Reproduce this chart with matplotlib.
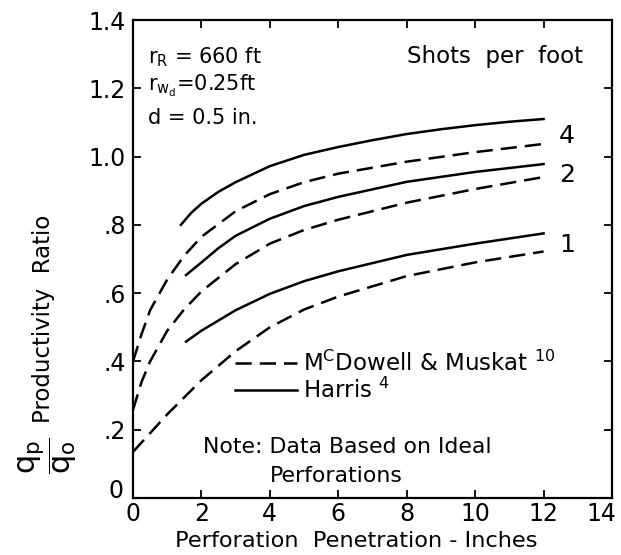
import matplotlib
matplotlib.use("Agg")
import matplotlib.pyplot as plt
import matplotlib.transforms as mtrans

plt.rcParams['font.family'] = ['DejaVu Sans']
plt.rcParams['mathtext.fontset'] = 'dejavusans'
plt.rcParams['mathtext.default'] = 'regular'

# ---- data ----
harris4_x = [1.4, 1.7, 2, 2.5, 3, 4, 5, 6, 7, 8, 9, 10, 11, 12]
harris4_y = [0.80, 0.835, 0.862, 0.897, 0.925, 0.972, 1.005, 1.028, 1.048, 1.066, 1.08, 1.092, 1.102, 1.11]

mcd4_x = [0, 0.25, 0.5, 1, 1.5, 2, 3, 4, 5, 6, 8, 10, 12]
mcd4_y = [0.40, 0.48, 0.55, 0.64, 0.71, 0.765, 0.84, 0.89, 0.925, 0.95, 0.985, 1.013, 1.037]

harris2_x = [1.55, 2, 2.5, 3, 4, 5, 6, 8, 10, 12]
harris2_y = [0.653, 0.69, 0.732, 0.768, 0.818, 0.855, 0.882, 0.926, 0.955, 0.978]

mcd2_x = [0, 0.25, 0.5, 1, 1.5, 2, 3, 4, 5, 6, 8, 10, 12]
mcd2_y = [0.258, 0.34, 0.40, 0.49, 0.553, 0.605, 0.685, 0.745, 0.785, 0.815, 0.865, 0.905, 0.94]

harris1_x = [1.55, 2, 3, 4, 5, 6, 8, 10, 12]
harris1_y = [0.458, 0.49, 0.55, 0.598, 0.635, 0.664, 0.712, 0.745, 0.775]

mcd1_x = [0, 0.5, 1, 1.5, 2, 3, 4, 5, 6, 8, 10, 12]
mcd1_y = [0.135, 0.19, 0.245, 0.295, 0.345, 0.43, 0.50, 0.552, 0.59, 0.65, 0.69, 0.722]

shots_labels = ["4", "2", "1"]
shots_label_y = [1.061, 0.947, 0.742]

x_ticks = [0, 2, 4, 6, 8, 10, 12, 14]
x_ticklabels = ["0", "2", "4", "6", "8", "10", "12", "14"]
y_ticks = [0, 0.2, 0.4, 0.6, 0.8, 1.0, 1.2, 1.4]
y_ticklabels = ["0", ".2", ".4", ".6", ".8", "1.0", "1.2", "1.4"]

legend_labels = [r"M$^{\mathrm{C}}$Dowell & Muskat $^{10}$", r"Harris $^{4}$"]

# ---- figure ----
fig = plt.figure(figsize=(6.21, 5.55), dpi=100)
ax = fig.add_axes([133/621, 1-498/555, (612-133)/621, (498-20)/555])

lw = 1.8
dash = (6.5, 3.2)
ln_d, = ax.plot(mcd4_x, mcd4_y, color='black', lw=lw, dashes=dash)
ax.plot(mcd2_x, mcd2_y, color='black', lw=lw, dashes=dash)
ax.plot(mcd1_x, mcd1_y, color='black', lw=lw, dashes=dash)
ln_s, = ax.plot(harris4_x, harris4_y, color='black', lw=lw)
ax.plot(harris2_x, harris2_y, color='black', lw=lw)
ax.plot(harris1_x, harris1_y, color='black', lw=lw)

ax.set_xlim(0, 14)
ax.set_ylim(0, 1.4)
ax.set_xticks(x_ticks)
ax.set_xticklabels(x_ticklabels, fontsize=17)
ax.set_yticks(y_ticks)
ax.set_yticklabels(y_ticklabels, fontsize=17)
ax.tick_params(direction='in', length=6, width=1.3, top=True, right=True, pad=3)
ax.tick_params(axis='y', pad=5)
for s in ax.spines.values():
    s.set_linewidth(1.6)
xl = ax.get_xticklabels()
xl[-1].set_transform(xl[-1].get_transform() + mtrans.ScaledTranslation(-11/100, 0, fig.dpi_scale_trans))
yl = ax.get_yticklabels()
yl[0].set_transform(yl[0].get_transform() + mtrans.ScaledTranslation(-3/100, 10/100, fig.dpi_scale_trans))

# shots-per-foot labels
for lab, yy in zip(shots_labels, shots_label_y):
    ax.text(12.45, yy, lab, fontsize=18, ha='left', va='center')

ax.text(8.0, 1.294, "Shots  per  foot", fontsize=16.5, ha='left', va='center')
ax.text(0.45, 1.292, r"r$_\mathrm{R}$ = 660 ft", fontsize=15, ha='left', va='center')
ax.text(0.45, 1.206, r"r$_{\mathrm{w}_\mathrm{d}}$=0.25ft", fontsize=15, ha='left', va='center')
ax.text(0.45, 1.113, "d = 0.5 in.", fontsize=15, ha='left', va='center')

ax.text(2.05, 0.150, "Note: Data Based on Ideal", fontsize=15.8, ha='left', va='center')
ax.text(4.0, 0.065, "Perforations", fontsize=15.8, ha='left', va='center')

leg = ax.legend([ln_d, ln_s], legend_labels, loc='upper left',
                bbox_to_anchor=(2.98, 0.43), bbox_transform=ax.transData,
                frameon=False, fontsize=16.5, handlelength=2.7, handletextpad=0.25,
                labelspacing=0.05, borderpad=0, borderaxespad=0)

fig.text(356/621, 1-541/555, "Perforation  Penetration - Inches", fontsize=16.2,
         ha='center', va='center')
fig.text(44/621, 1-319/555, "Productivity  Ratio", fontsize=16.5,
         rotation=90, ha='center', va='center')
fig.text(48/621, 1-456/555, r"$\dfrac{q_p}{q_o}$", fontsize=22,
         rotation=90, ha='center', va='center')

fig.savefig("out.png", dpi=100)
